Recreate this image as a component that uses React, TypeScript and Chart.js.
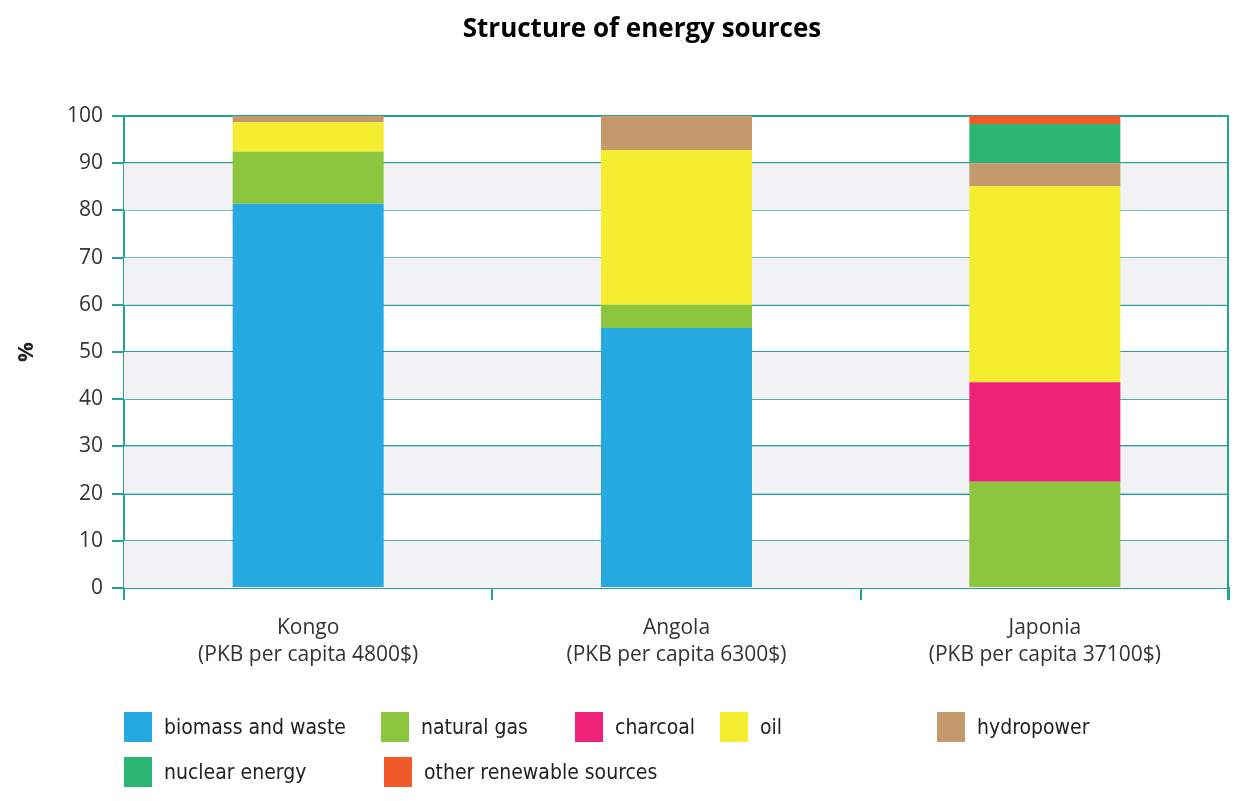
import { useEffect, useRef } from "react";
import { Chart, ChartConfiguration, Plugin } from "chart.js/auto";

// chart data
const countries = [
  ["Kongo", "(PKB per capita 4800$)"],
  ["Angola", "(PKB per capita 6300$)"],
  ["Japonia", "(PKB per capita 37100$)"],
];
const sources = [
  "biomass and waste",
  "natural gas",
  "charcoal",
  "oil",
  "hydropower",
  "nuclear energy",
  "other renewable sources",
];
const biomass = [81.4, 55.1, 0];
const naturalGas = [11.0, 4.9, 22.5];
const charcoal = [0, 0, 21.1];
const oil = [6.3, 32.8, 41.5];
const hydropower = [1.3, 7.2, 4.9];
const nuclear = [0, 0, 8.3];
const otherRenewable = [0, 0, 1.7];
const yTicks = [0, 10, 20, 30, 40, 50, 60, 70, 80, 90, 100];

const seriesValues = [biomass, naturalGas, charcoal, oil, hydropower, nuclear, otherRenewable];
const colors = ["#25a9e0", "#8cc63f", "#ee2178", "#f5ed2f", "#c49a6c", "#2bb673", "#f15a29"];

// legend layout (left edge of each swatch, and row)
const legendLeft = [124, 381, 575, 720, 937, 124, 384];
const legendRow = [0, 0, 0, 0, 0, 1, 1];

const TEAL = "#26a197";
const FONT = "'Open Sans', 'Noto Sans', sans-serif";

const bandsPlugin: Plugin = {
  id: "bands",
  beforeDatasetsDraw(chart) {
    const { ctx, chartArea } = chart;
    const y = chart.scales.y;
    ctx.save();
    ctx.fillStyle = "#f2f2f4";
    for (let i = 0; i < yTicks.length - 1; i += 2) {
      const top = y.getPixelForValue(yTicks[i + 1]);
      const bottom = y.getPixelForValue(yTicks[i]);
      ctx.fillRect(chartArea.left, top, chartArea.right - chartArea.left, bottom - top);
    }
    ctx.restore();
  },
  afterDraw(chart) {
    const { ctx, chartArea } = chart;
    ctx.save();
    ctx.strokeStyle = TEAL;
    ctx.lineWidth = 2;
    ctx.beginPath();
    ctx.moveTo(chartArea.right - 1, chartArea.top);
    ctx.lineTo(chartArea.right - 1, chartArea.bottom + 12);
    ctx.stroke();
    ctx.restore();
  },
};

export default function App() {
  const canvasRef = useRef<HTMLCanvasElement>(null);
  const chartRef = useRef<Chart | null>(null);

  useEffect(() => {
    document.body.style.margin = "0";
    if (!canvasRef.current) return;
    if (chartRef.current) chartRef.current.destroy();

    const config: ChartConfiguration = {
      type: "bar",
      data: {
        labels: countries,
        datasets: sources.map((name, i) => ({
          label: name,
          data: seriesValues[i],
          backgroundColor: colors[i],
          borderWidth: 0,
          barPercentage: 0.41,
          categoryPercentage: 1,
        })),
      },
      options: {
        responsive: false,
        animation: false,
        layout: { padding: { top: 116, right: 21, bottom: 0, left: 0 } },
        plugins: {
          legend: { display: false },
          tooltip: { enabled: false },
        },
        scales: {
          x: {
            stacked: true,
            afterFit: (scale) => {
              scale.height = 213;
            },
            grid: {
              offset: true,
              drawOnChartArea: false,
              color: TEAL,
              lineWidth: 2,
              tickLength: 12,
            },
            border: { color: TEAL, width: 2 },
            ticks: {
              color: "#333",
              padding: 14,
              font: { family: FONT, size: 21, lineHeight: 1.3 },
            },
          },
          y: {
            stacked: true,
            min: 0,
            max: 100,
            afterFit: (scale) => {
              scale.width = 124;
            },
            afterBuildTicks: (scale) => {
              scale.ticks = yTicks.map((v) => ({ value: v }));
            },
            grid: { color: TEAL, lineWidth: 2, tickLength: 12 },
            border: { color: TEAL, width: 2 },
            ticks: {
              color: "#333",
              padding: 9,
              font: { family: FONT, size: 21 },
            },
            title: {
              display: true,
              text: "%",
              color: "#222",
              padding: { top: 14, bottom: 0 },
              font: { family: FONT, size: 22, weight: "bold" },
            },
          },
        },
      },
      plugins: [bandsPlugin],
    };

    chartRef.current = new Chart(canvasRef.current, config);
    return () => {
      if (chartRef.current) {
        chartRef.current.destroy();
        chartRef.current = null;
      }
    };
  }, []);

  return (
    <div style={{ position: "relative", width: 1250, height: 801, background: "#fff", overflow: "hidden" }}>
      <div
        style={{
          position: "absolute",
          top: 9,
          left: 0,
          width: 1250,
          paddingLeft: 34,
          boxSizing: "border-box",
          textAlign: "center",
          fontFamily: FONT,
          fontWeight: 700,
          fontSize: 26,
          color: "#000",
          lineHeight: "36px",
        }}
      >
        Structure of energy sources
      </div>
      <canvas ref={canvasRef} width={1250} height={801} style={{ display: "block" }} />
      {sources.map((name, i) => (
        <div
          key={name}
          style={{
            position: "absolute",
            left: legendLeft[i],
            top: 712 + legendRow[i] * 45,
            height: 30,
            display: "flex",
            alignItems: "center",
            fontFamily: "'Liberation Sans Narrow', 'DejaVu Sans Condensed', sans-serif",
            fontSize: 21,
            color: "#222",
            whiteSpace: "nowrap",
          }}
        >
          <span style={{ display: "inline-block", width: 28, height: 30, background: colors[i], marginRight: 12 }} />
          {name}
        </div>
      ))}
    </div>
  );
}
